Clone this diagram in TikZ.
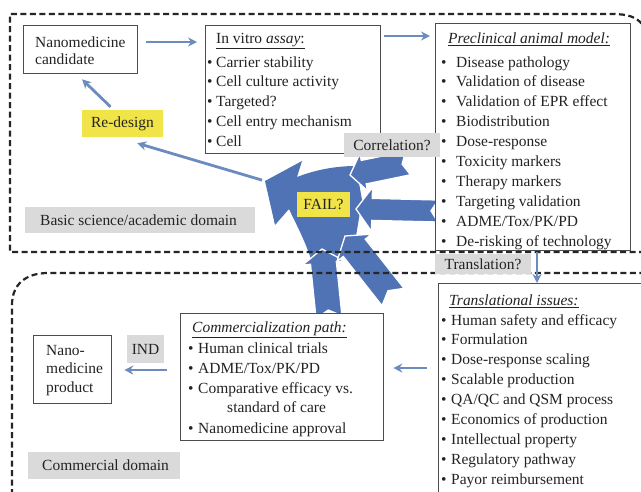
\documentclass[tikz,border=0pt]{standalone}
\usepackage{fontspec}
\setmainfont{Liberation Serif}
\usetikzlibrary{calc,arrows.meta}
\newdimen\pxu \pxu=0.03cm
\definecolor{bluec}{RGB}{80,115,182}
\definecolor{connc}{RGB}{108,140,192}
\definecolor{ybox}{RGB}{240,228,72}
\definecolor{gbox}{RGB}{218,218,218}
\definecolor{txt}{RGB}{35,35,35}
\newcommand\blockarr[6]{%
 \coordinate (bah) at ($#2!#5\pxu!#1$);
 \filldraw[blueshape] ($#1!#3\pxu!90:#2$) -- ($(bah)!#3\pxu!90:#2$) -- ($(bah)!#4\pxu!90:#2$) -- #2 -- ($(bah)!#4\pxu!-90:#2$) -- ($(bah)!#3\pxu!-90:#2$) -- ($#1!#3\pxu!-90:#2$) -- ($#1!#6\pxu!#2$) -- cycle;}
\begin{document}
\begin{tikzpicture}[x=0.03cm,y=-0.03cm,
 every node/.style={font=\fontsize{13.2}{16}\selectfont, text=txt},
 box/.style={draw=black!70, line width=1.3\pxu, fill=white, anchor=north west, inner sep=0},
 item/.style={anchor=base west, inner sep=0},
 ylab/.style={fill=ybox, inner sep=0},
 glab/.style={fill=gbox, inner sep=0},
 conn/.style={draw=connc, line width=0.084cm, -{Stealth[length=0.27cm,width=0.27cm]}},
 dline/.style={draw=black!85, line width=2.2\pxu, dash pattern=on 6\pxu off 3.5\pxu},
 blueshape/.style={fill=bluec, draw=white, line width=1.3\pxu, line join=miter}]
\useasboundingbox (0,0) rectangle (641,491);
\clip (0,0) rectangle (641,491);
\fill[white] (0,0) rectangle (641,491);

% big blue arrow
\fill[bluec] (265,181) -- (302,161) -- (297,177) .. controls (315,170) and (335,166) .. (356,166) -- (362,200) -- (356,236) -- (340,256) -- (312,262) .. controls (305,240) and (295,222) .. (289,209) -- (275,225) -- cycle;
\coordinate (failtip) at (265,181);
\blockarr{(329,317)}{(322,249)}{13}{21}{14}{7}
\blockarr{(393,297)}{(345,236)}{14}{22}{15}{8}
\blockarr{(438,211)}{(356,209)}{11}{22}{16}{7}
\blockarr{(408,163)}{(350,175)}{12}{19}{14}{6}

% domains
\draw[dline] (645,252) -- (10,252) -- (10,14) -- (612,14) .. controls (628,14) and (636,17) .. (642,24);
\draw[dline] (12,495) -- (12,305) .. controls (12,285) and (25,273) .. (48,273) -- (645,273);

% candidate
\node[box, minimum width=114\pxu, minimum height=48\pxu] (cand) at (23,25) {};
\node[item] (cand1) at (35,47) {Nanomedicine};
\node[item] (cand2) at (35,64.5) {candidate};

% in vitro
\node[box, minimum width=175\pxu, minimum height=128\pxu] (vitro) at (205,25) {};
\node[item] (vitroT) at (216,43) {\underline{In vitro \textit{assay}:}};
\foreach \t [count=\i] in {Carrier stability,Cell culture activity,Targeted?,Cell entry mechanism,Cell}
 \node[item] (vitro\i) at (207,{47.2+19.8*\i}) {\makebox[9\pxu][l]{\textbullet}\t};

% preclinical
\node[box, minimum width=195\pxu, minimum height=227\pxu] (pre) at (435,23) {};
\node[item] (preT) at (448,43) {\underline{\textit{Preclinical animal model:}}};
\foreach \t [count=\i] in {Disease pathology,Validation of disease,Validation of EPR effect,Biodistribution,Dose-response,Toxicity markers,Therapy markers,Targeting validation,ADME/Tox/PK/PD,De-risking of technology}
 \node[item] (pre\i) at (441,{47.1+19.9*\i}) {\makebox[15\pxu][l]{\textbullet}\t};

% translational
\node[box, minimum width=215\pxu, minimum height=220\pxu] (trans) at (438,283) {};
\node[item] (transT) at (449,305) {\underline{\textit{Translational issues:}}};
\foreach \t [count=\i] in {Human safety and efficacy,Formulation,Dose-response scaling,Scalable production,QA/QC and QSM process,Economics of production,Intellectual property,Regulatory pathway,Payor reimbursement}
 \node[item] (trans\i) at (441,{305.1+19.9*\i}) {\makebox[10\pxu][l]{\textbullet}\t};

% commercialization
\node[box, minimum width=203\pxu, minimum height=127\pxu] (comm) at (180,313) {};
\node[item] (commT) at (192,332) {\underline{\textit{Commercialization path:}}};
\node[item] (comm1) at (188,353) {\makebox[10\pxu][l]{\textbullet}Human clinical trials};
\node[item] (comm2) at (188,373) {\makebox[10\pxu][l]{\textbullet}ADME/Tox/PK/PD};
\node[item] (comm3) at (188,393) {\makebox[10\pxu][l]{\textbullet}Comparative efficacy vs.};
\node[item] (comm4) at (227,412) {standard of care};
\node[item] (comm5) at (188,433) {\makebox[10\pxu][l]{\textbullet}Nanomedicine approval};

% product
\node[box, minimum width=78\pxu, minimum height=68\pxu] (prod) at (33,335) {};
\node[item] (prod1) at (46,355) {Nano-};
\node[item] (prod2) at (46,373.5) {medicine};
\node[item] (prod3) at (46,392) {product};

% labels
\node[ylab, minimum width=81\pxu, minimum height=27\pxu] (redesign) at (122.5,123.5) {Re-design};
\node[ylab, minimum width=53\pxu, minimum height=25\pxu] (fail) at (323.5,204.5) {FAIL?};
\node[glab, anchor=west, inner xsep=15\pxu, minimum height=26\pxu] (basic) at (25,220) {\makebox[200\pxu][l]{Basic science/academic domain}};
\node[glab, anchor=west, inner xsep=14\pxu, minimum height=27\pxu] (commdom) at (28,465.5) {\makebox[124\pxu][l]{Commercial domain}};
\node[glab, minimum width=96\pxu, minimum height=24\pxu] (corr) at (392,145) {Correlation?};
\node[glab, minimum width=96\pxu, minimum height=20\pxu] (translq) at (483,264) {Translation?};
\node[glab, minimum width=37\pxu, minimum height=28\pxu] (ind) at (145.5,349) {IND};

% connectors
\draw[conn, shorten <=0.24cm, shorten >=0.24cm] (cand.east |- 0,42) -- (vitro.west |- 0,42);
\draw[conn, shorten <=0.09cm, shorten >=0.15cm] (vitro.east |- 0,36) -- (pre.west |- 0,36);
\draw[conn] ([xshift=-0.36cm,yshift=0.09cm]redesign.north) -- ([xshift=1.77cm,yshift=-0.15cm]cand.south west);
\draw[conn, shorten <=0.09cm] (failtip) -- ([xshift=-0.78cm,yshift=-0.18cm]redesign.south east);
\draw[conn, shorten <=0.03cm] (pre.south -| 537,0) -- (trans.north -| 537,0);
\draw[conn, shorten <=0.33cm, shorten >=0.27cm] (trans.west |- 0,368) -- (comm.east |- 0,368);
\draw[conn, shorten <=0.39cm, shorten >=0.36cm] (comm.west |- 0,370) -- (prod.east |- 0,370);
\end{tikzpicture}
\end{document}
